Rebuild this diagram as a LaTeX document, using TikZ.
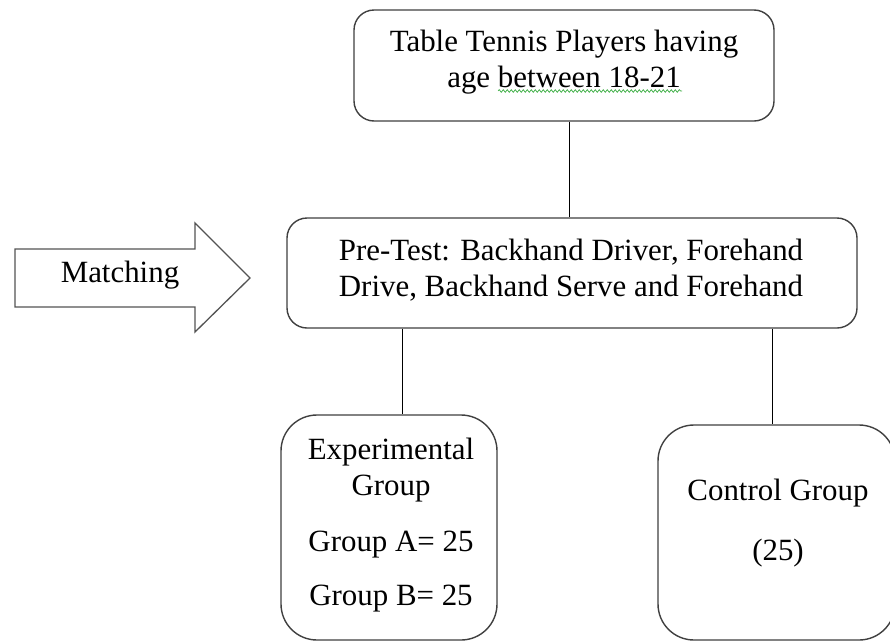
\documentclass[tikz,border=0pt]{standalone}
\usepackage{fontspec}
\setmainfont{Liberation Serif}
\usetikzlibrary{decorations.pathmorphing}
\definecolor{boxgray}{HTML}{404040}
\definecolor{spellgreen}{HTML}{3FAF46}
\begin{document}
\begin{tikzpicture}[x=1pt,y=-1pt,
  box/.style={draw=boxgray, line width=1.4pt, rounded corners=20pt, inner sep=0pt},
  bigbox/.style={draw=boxgray, line width=1.4pt, rounded corners=36pt, inner sep=0pt},
  txt/.style={align=center, inner sep=0pt, font=\fontsize{30.9}{36}\selectfont},
  conn/.style={draw=black, line width=0.9pt},
  arrowline/.style={draw=boxgray!90, line width=1.3pt, fill=white},
  wavy/.style={draw=spellgreen, line width=0.7pt, decorate, decoration={snake, amplitude=1.3pt, segment length=4pt}}]
\useasboundingbox (0,0) rectangle (890,643);
\clip (0,0) rectangle (890,643);
\fill[white] (0,0) rectangle (890,643);

% boxes
\node[box, minimum width=420pt, minimum height=111pt] (top) at (564,65.5) {};
\node[txt] (toptext) at (564,62) {Table Tennis Players having\\age between 18-21};
\node[box, minimum width=570pt, minimum height=110pt] (mid) at (572,273) {};
\node[txt] (midtext) at (571,270) {Pre-Test: Backhand Driver, Forehand\\Drive, Backhand Serve and Forehand};
\node[bigbox, minimum width=216pt, minimum height=225pt] (exp) at (389,527.5) {};
\node[txt] (exptext) at (391,525) {Experimental\\Group\\[20pt]Group A= 25\\[18pt]Group B= 25};
\node[bigbox, minimum width=237pt, minimum height=215pt] (ctrl) at (776.5,532.5) {};
\node[txt] (ctrltext) at (778,523) {Control Group\\[24pt](25)};

% spell-check underline
\draw[wavy] (498,91) -- (682,91);

% connectors
\draw[conn] (top.south -| 569,0) -- (mid.north -| 569,0);
\draw[conn] (mid.south -| 402,0) -- (exp.north -| 402,0);
\draw[conn] (mid.south -| 772,0) -- (ctrl.north -| 772,0);

% matching arrow
\draw[arrowline] (15,249) -- (195,249) -- (195,223) -- (250,278) -- (195,332) -- (195,307) -- (15,307) -- cycle;
\node[txt] (matching) at (120,275) {Matching};
\end{tikzpicture}
\end{document}
